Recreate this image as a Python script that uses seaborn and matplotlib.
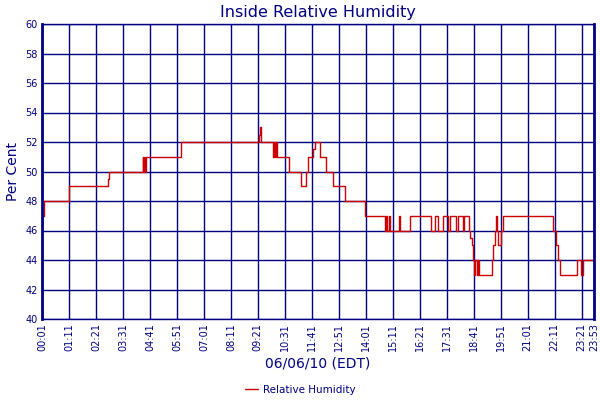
import matplotlib
matplotlib.use("Agg")
import matplotlib.pyplot as plt
import seaborn as sns
import pandas as pd

# breakpoints of the step series: minute of day and humidity value
minutes = [1, 6, 71, 172, 174, 262, 263, 266, 268, 272, 362,
           564, 566, 568, 599, 603, 606, 608, 611, 642, 674, 687,
           691, 704, 708, 723, 737, 756, 786, 839,
           890, 893, 896, 902, 904, 927, 930, 955, 1009, 1021, 1029,
           1040, 1053, 1059, 1075, 1079, 1092, 1096, 1108, 1112, 1116,
           1119, 1122, 1125, 1129, 1131, 1134, 1168, 1172, 1176, 1179,
           1181, 1185, 1193, 1197, 1327, 1334, 1340, 1346, 1389, 1400,
           1405, 1433]
humidity = [47, 48, 49, 49.5, 50, 51, 50, 51, 50, 51, 52,
            52.5, 53, 52, 51, 52, 51, 52, 51, 50, 49, 50,
            51, 51.5, 52, 51, 50, 49, 48, 47,
            46, 47, 46, 47, 46, 47, 46, 47, 46, 47, 46,
            47, 46, 47, 46, 47, 46, 47, 46, 45.5, 45,
            44, 43, 44, 43, 44, 43, 44, 45, 46, 47,
            46, 45, 46, 47, 46, 45, 44, 43, 44, 43,
            44, 44]

tick_minutes = [1, 71, 141, 211, 281, 351, 421, 491, 561, 631, 701,
                771, 841, 911, 981, 1051, 1121, 1191, 1261, 1331, 1401, 1433]
tick_labels = ["00:01", "01:11", "02:21", "03:31", "04:41", "05:51", "07:01",
               "08:11", "09:21", "10:31", "11:41", "12:51", "14:01", "15:11",
               "16:21", "17:31", "18:41", "19:51", "21:01", "22:11", "23:21",
               "23:53"]

navy = "#000080"
red = "#CC0000"

df = pd.DataFrame({"minute": minutes, "Relative Humidity": humidity})

sns.set_style("white")
plt.rcParams['font.family'] = ['DejaVu Sans']

fig = plt.figure(figsize=(6, 4), dpi=100)
ax = fig.add_axes([0.07, 0.2025, 0.92, 0.7375])

sns.lineplot(data=df, x="minute", y="Relative Humidity", ax=ax,
             drawstyle="steps-post", color=red, linewidth=1.0,
             label="Relative Humidity", legend=False)

ax.set_xlim(1, 1433)
ax.set_ylim(40, 60)
ax.set_xticks(tick_minutes)
ax.set_xticklabels(tick_labels, rotation=90, fontsize=7, color=navy)
ax.set_yticks(range(40, 61, 2))
ax.set_yticklabels([str(v) for v in range(40, 61, 2)], fontsize=7, color=navy)
ax.tick_params(length=0, pad=3)
ax.grid(True, color=navy, linewidth=1)
ax.set_axisbelow(True)

for side, sp in ax.spines.items():
    sp.set_color(navy)
    sp.set_linewidth(2 if side in ("left", "right") else 1)

ax.set_title("Inside Relative Humidity", color=navy, fontsize=11.5, pad=5)
ax.set_xlabel("06/06/10 (EDT)", color=navy, fontsize=10, labelpad=4)
ax.set_ylabel("Per Cent", color=navy, fontsize=10, labelpad=4)

fig.legend(loc="lower center", bbox_to_anchor=(0.5, -0.01), frameon=False,
           fontsize=7.5, labelcolor=navy, handlelength=1.3, handletextpad=0.4)

fig.savefig("out.png", dpi=100)
